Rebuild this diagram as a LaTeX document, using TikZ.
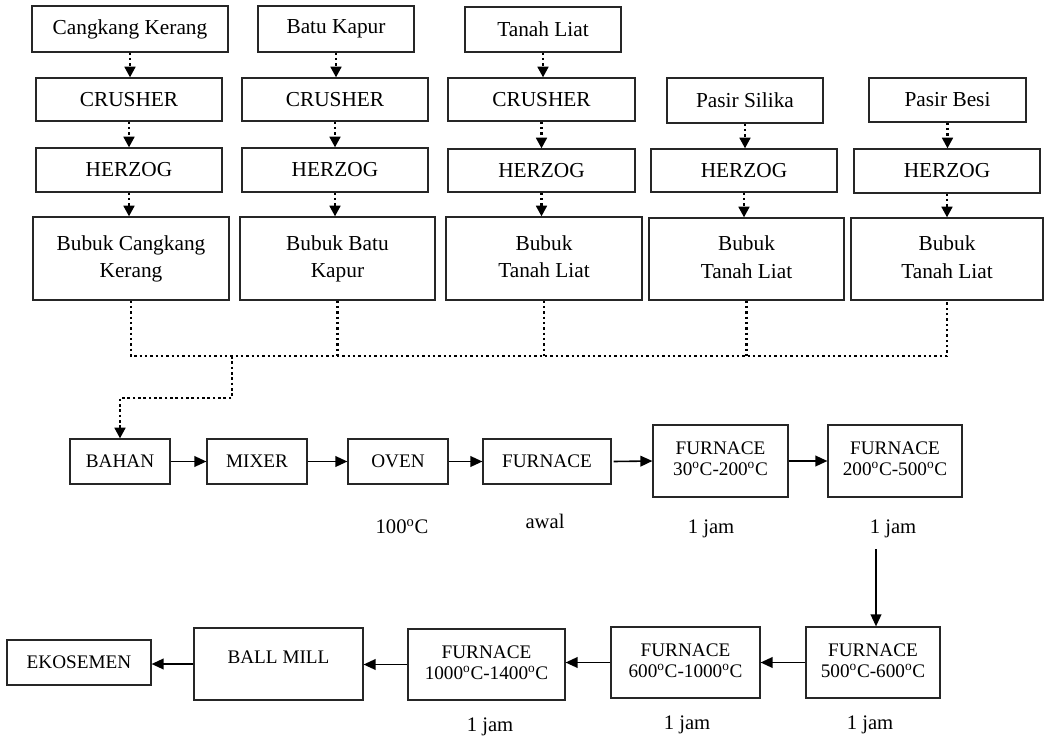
\documentclass[tikz,border=0pt]{standalone}
\usepackage{fontspec}
\setmainfont{Liberation Serif}
\usetikzlibrary{arrows.meta}

% font sizes
\newcommand\topf{\fontsize{16}{20.5}\selectfont}
\newcommand\lowf{\fontsize{14.4}{16}\selectfont}
\newcommand\lblf{\fontsize{15.5}{18}\selectfont}
% two centred lines, lifted a little inside their box
\newcommand\twoline[3]{\raisebox{#1}{\begin{tabular}{@{}c@{}}#2\\#3\end{tabular}}}
\newcommand\dg{\textsuperscript{o}C}
% box node given by its corners: name, x1, y1, x2, y2, style, text
\newcommand\pbox[7]{%
  \pgfmathsetmacro\pbcx{(#2+#4)/2}\pgfmathsetmacro\pbcy{(#3+#5)/2}%
  \pgfmathsetmacro\pbw{(#4-#2)*0.75}\pgfmathsetmacro\pbh{(#5-#3)*0.75}%
  \node[#6, minimum width=\pbw pt, minimum height=\pbh pt] (#1) at (\pbcx,\pbcy) {#7};}

\tikzset{
  box/.style={draw=black!85, line width=0.9pt, inner sep=0pt, align=center},
  topbox/.style={box, font=\topf},
  lowbox/.style={box, font=\lowf},
  dotline/.style={line width=1.9pt, dash pattern=on 1.9pt off 2.1pt},
  dotarrow/.style={dotline, -{Triangle[length=8pt,width=8pt]}},
  flow/.style={line width=1.2pt, -{Triangle[length=9pt,width=8pt]}},
  lbl/.style={font=\lblf, anchor=base, inner sep=0pt},
}

\begin{document}
\begin{tikzpicture}[x=0.75pt, y=-0.75pt]
\useasboundingbox (0,0) rectangle (1046,738);

% raw materials
\pbox{a1}{32}{6}{228}{52}{topbox}{Cangkang Kerang}
\pbox{b1}{258}{6}{414}{52}{topbox}{Batu Kapur}
\pbox{c1}{465}{7}{621}{52}{topbox}{Tanah Liat}
\pbox{d1}{667}{78}{823}{123}{topbox}{Pasir Silika}
\pbox{e1}{869}{78}{1026}{122}{topbox}{Pasir Besi}

% crushers
\pbox{a2}{36}{78}{222}{121}{topbox}{CRUSHER}
\pbox{b2}{242}{78}{428}{121}{topbox}{CRUSHER}
\pbox{c2}{448}{78}{635}{121}{topbox}{CRUSHER}

% herzog mills
\pbox{a3}{36}{148}{222}{192}{topbox}{HERZOG}
\pbox{b3}{242}{148}{428}{192}{topbox}{HERZOG}
\pbox{c3}{448}{149}{635}{192}{topbox}{HERZOG}
\pbox{d3}{651}{149}{837}{192}{topbox}{HERZOG}
\pbox{e3}{854}{149}{1040}{193}{topbox}{HERZOG}

% powders
\pbox{a4}{33}{217}{229}{300}{topbox}{\twoline{4.5pt}{Bubuk Cangkang}{Kerang}}
\pbox{b4}{240}{217}{435}{300}{topbox}{\twoline{4.5pt}{Bubuk Batu}{Kapur}}
\pbox{c4}{446}{217}{642}{300}{topbox}{\twoline{4.5pt}{Bubuk}{Tanah Liat}}
\pbox{d4}{649}{218}{844}{300}{topbox}{\twoline{4.5pt}{Bubuk}{Tanah Liat}}
\pbox{e4}{851}{218}{1043}{300}{topbox}{\twoline{4.5pt}{Bubuk}{Tanah Liat}}

% dotted feeds down each column
\foreach \u/\v in {a1/a2,a2/a3,a3/a4,b1/b2,b2/b3,b3/b4,c1/c2,c2/c3,c3/c4,d1/d3,d3/d4,e1/e3,e3/e4}
  \draw[dotarrow] (\u.south) -- (\u.south |- \v.north);

% collecting line
\coordinate (bus) at (0,356);
\coordinate (tap) at (232,356);
\coordinate (bend) at (232,398);
\draw[dotline] (a4.south) -- (a4.south |- bus) -- (e4.south |- bus) -- (e4.south);
\foreach \u in {b4,c4,d4}
  \draw[dotline] (\u.south) -- (\u.south |- bus);

% middle process line
\pbox{bahan}{70}{439}{170}{484}{lowbox}{BAHAN}
\pbox{mixer}{207}{439}{307}{484}{lowbox}{MIXER}
\pbox{oven}{348}{439}{448}{484}{lowbox}{OVEN}
\pbox{furn}{483}{439}{611}{484}{lowbox}{FURNACE}
\pbox{f30}{653}{425}{788}{497}{lowbox}{\twoline{3.5pt}{FURNACE}{30\dg-200\dg}}
\pbox{f200}{828}{425}{962}{497}{lowbox}{\twoline{3.5pt}{FURNACE}{200\dg-500\dg}}

\draw[dotarrow] (tap) -- (bend) -| (bahan.north);

\draw[flow] (bahan.east) -- (mixer.west);
\draw[flow] (mixer.east) -- (oven.west);
\draw[flow] (oven.east) -- (furn.west);
\draw[flow] ([xshift=1.5pt]furn.east) -- (f30.west);
\draw[flow] (f30.east) -- (f200.west);

\node[lbl] (t1) at (402,533) {100\dg};
\node[lbl] (t2) at (545,528) {awal};
\node[lbl] (t3) at (711,533) {1 jam};
\node[lbl] (t4) at (893,533) {1 jam};

% bottom process line
\pbox{f500}{806}{627}{940}{698}{lowbox}{\twoline{4pt}{FURNACE}{500\dg-600\dg}}
\pbox{f600}{611}{627}{760}{698}{lowbox}{\twoline{4pt}{FURNACE}{600\dg-1000\dg}}
\pbox{f1000}{408}{629}{565}{700}{lowbox}{\twoline{4pt}{FURNACE}{1000\dg-1400\dg}}
\pbox{ball}{194}{628}{363}{700}{lowbox}{\raisebox{10.5pt}{BALL MILL}}
\pbox{eko}{7}{640}{151}{685}{lowbox}{EKOSEMEN}

\coordinate (drop) at (876,549);
\draw[flow] (drop) -- (drop |- f500.north);
\draw[flow] (f500.west) -- (f600.east);
\draw[flow] (f600.west) -- (f600.west -| f1000.east);
\draw[flow] (f1000.west) -- (f1000.west -| ball.east);
\draw[flow] (ball.west) -- (ball.west -| eko.east);

\node[lbl] (t5) at (490,731) {1 jam};
\node[lbl] (t6) at (687,729) {1 jam};
\node[lbl] (t7) at (870,729) {1 jam};
\end{tikzpicture}
\end{document}
